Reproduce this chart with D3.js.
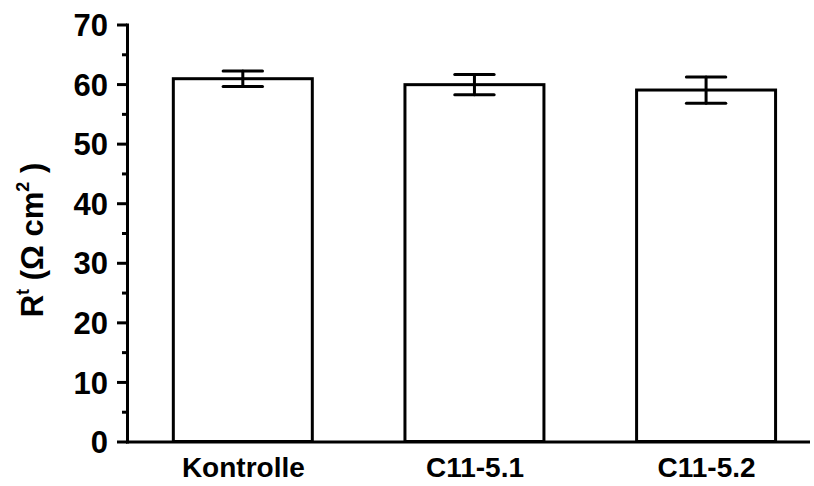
<!DOCTYPE html>
<html>
<head>
<meta charset="utf-8">
<script src="https://cdn.jsdelivr.net/npm/d3@7"></script>
<style>
  body { margin: 0; background: #fff; }
  text { font-family: "Liberation Sans", Arial, sans-serif; font-weight: bold; fill: #000; }
</style>
</head>
<body>
<div id="chart"></div>
<script>
// data
let categories = ["Kontrolle", "C11-5.1", "C11-5.2"],
  means = [60.9, 59.9, 59.0],
  errors = [1.3, 1.7, 2.2],
  yTicks = [0, 10, 20, 30, 40, 50, 60, 70],
  yMinor = [5, 15, 25, 35, 45, 55, 65];

let draw = () => {
  var width = 814,
    height = 486;

  var svg = d3
    .select("#chart")
    .append("svg")
    .attr("width", width)
    .attr("height", height);

  var Xaxis = d3.scaleLinear().domain([0.5, 3.44]).range([127, 808]),
    Yaxis = d3.scaleLinear().domain([0, 70]).range([441.5, 24.5]),
    barW = 0.6,
    capW = 0.17;

  var data = categories.map((c, i) => ({ cat: c, pos: i + 1, val: means[i], err: errors[i] }));

  // bars
  svg
    .selectAll(".bar")
    .data(data)
    .enter()
    .append("rect")
    .attr("class", "bar")
    .attr("x", (d) => Xaxis(d.pos - barW / 2))
    .attr("y", (d) => Yaxis(d.val))
    .attr("width", (d) => Xaxis(d.pos + barW / 2) - Xaxis(d.pos - barW / 2))
    .attr("height", (d) => Yaxis(0) - Yaxis(d.val))
    .attr("fill", "#fff")
    .attr("stroke", "#000")
    .attr("stroke-width", 3);

  // error bars
  var eb = svg.selectAll(".err").data(data).enter().append("g").attr("class", "err");
  eb.append("line")
    .attr("x1", (d) => Xaxis(d.pos))
    .attr("x2", (d) => Xaxis(d.pos))
    .attr("y1", (d) => Yaxis(d.val - d.err))
    .attr("y2", (d) => Yaxis(d.val + d.err));
  eb.append("line")
    .attr("x1", (d) => Xaxis(d.pos - capW / 2))
    .attr("x2", (d) => Xaxis(d.pos + capW / 2))
    .attr("y1", (d) => Yaxis(d.val + d.err))
    .attr("y2", (d) => Yaxis(d.val + d.err));
  eb.append("line")
    .attr("x1", (d) => Xaxis(d.pos - capW / 2))
    .attr("x2", (d) => Xaxis(d.pos + capW / 2))
    .attr("y1", (d) => Yaxis(d.val - d.err))
    .attr("y2", (d) => Yaxis(d.val - d.err));
  eb.selectAll("line")
    .attr("stroke", "#000")
    .attr("stroke-width", 3)
    .attr("stroke-linecap", "round");

  // axes
  var yAx = svg
    .append("g")
    .attr("transform", `translate(${Xaxis(0.5)}, 0)`)
    .call(d3.axisLeft(Yaxis).tickValues(yTicks).tickSize(10).tickSizeOuter(0).tickPadding(9));
  svg
    .append("g")
    .attr("transform", `translate(${Xaxis(0.5)}, 0)`)
    .call(d3.axisLeft(Yaxis).tickValues(yMinor).tickSize(5).tickSizeOuter(0).tickFormat(""))
    .select(".domain")
    .remove();

  var xAx = svg
    .append("g")
    .attr("transform", `translate(0, ${Yaxis(0)})`)
    .call(
      d3
        .axisBottom(Xaxis)
        .tickValues([1, 2, 3])
        .tickSize(0)
        .tickSizeOuter(0)
        .tickPadding(16)
        .tickFormat((i) => categories[i - 1])
    );

  svg.selectAll(".domain, .tick line").attr("stroke", "#000").attr("stroke-width", 3);
  svg.selectAll(".domain").attr("stroke-linecap", "square");
  yAx.selectAll("text").style("font-size", "31px").attr("dy", "0.36em");
  xAx.selectAll("text").style("font-size", "28px").attr("dy", "0.71em");

  // y axis title
  var title = svg
    .append("text")
    .attr("transform", `translate(43, 240) rotate(-90)`)
    .attr("text-anchor", "middle")
    .style("font-size", "31px");
  title.append("tspan").text("R");
  title.append("tspan").text("t").attr("dy", -14).style("font-size", "18px");
  title.append("tspan").text(" (\u03A9 cm").attr("dy", 14);
  title.append("tspan").text("2").attr("dy", -14).style("font-size", "18px");
  title.append("tspan").text(" )").attr("dy", 14);
};

draw();
</script>
</body>
</html>
